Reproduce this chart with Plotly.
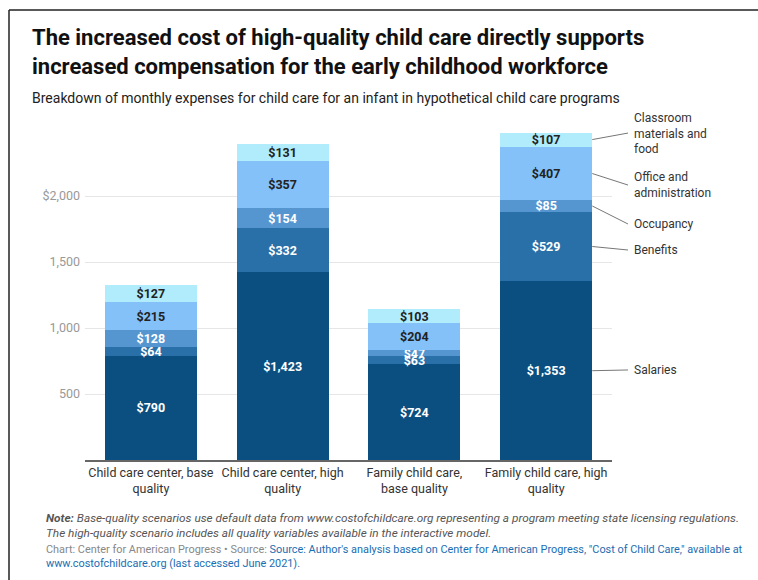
import plotly.graph_objects as go

categories = ["Child care center, base<br>quality", "Child care center, high<br>quality",
              "Family child care,<br>base quality", "Family child care, high<br>quality"]
salaries = [790, 1423, 724, 1353]
benefits = [64, 332, 63, 529]
occupancy = [128, 154, 47, 85]
office = [215, 357, 204, 407]
classroom = [127, 131, 103, 107]

series = [
    ("Salaries", salaries, "#0b4f80", "white"),
    ("Benefits", benefits, "#2a70a8", "white"),
    ("Occupancy", occupancy, "#5596d1", "white"),
    ("Office and<br>administration", office, "#84c1f8", "#222222"),
    ("Classroom<br>materials and<br>food", classroom, "#b0ecfb", "#222222"),
]
label_y = [682, 1591, 1788, 2083, 2477]

W, H = 758, 580
ML, MR, MT, MB = 85, 146, 125, 120
PW, PH = W - ML - MR, H - MT - MB
YMAX = 2538

def px(x):
    return (x - ML) / PW

def py(y):
    return (H - MB - y) / PH

FONT = "Roboto"
fig = go.Figure()
for name, vals, color, tcolor in series:
    fig.add_trace(go.Bar(
        x=categories, y=vals, name=name, marker=dict(color=color, line=dict(width=0)),
        text=[f"${v:,}" for v in vals], textposition="inside", insidetextanchor="middle",
        textangle=0, textfont=dict(family=FONT, size=12.5, color=tcolor, weight="bold"),
        hoverinfo="skip",
    ))

shapes = []
annotations = []
# leader lines + labels for last bar
last = len(categories) - 1
edge = (last + 0.35 + 0.5) / len(categories)
cum = 0
for (name, vals, color, tcolor), ly in zip(series, label_y):
    mid = cum + vals[last] / 2
    cum += vals[last]
    shapes.append(dict(type="line", xref="paper", yref="y", x0=edge, x1=px(628),
                       y0=mid, y1=ly, line=dict(color="#777777", width=1)))
    annotations.append(dict(xref="paper", yref="y", x=px(632), y=ly, text=name,
                            xanchor="left", yanchor="middle", align="left", showarrow=False,
                            font=dict(family=FONT, size=12, color="#333333")))

# border
shapes.append(dict(type="line", xref="paper", yref="paper", x0=px(9), x1=px(W + 5),
                   y0=py(10), y1=py(10), line=dict(color="#222222", width=1.5)))
shapes.append(dict(type="line", xref="paper", yref="paper", x0=px(9), x1=px(9),
                   y0=py(10), y1=py(H + 5), line=dict(color="#222222", width=1.5)))

annotations += [
    dict(xref="paper", yref="paper", x=px(30), y=py(52), xanchor="left", yanchor="middle",
         align="left", showarrow=False,
         text="The increased cost of high-quality child care directly supports<br>increased compensation for the early childhood workforce",
         font=dict(family=FONT, size=22, color="#111111", weight="bold")),
    dict(xref="paper", yref="paper", x=px(30), y=py(98), xanchor="left", yanchor="middle",
         align="left", showarrow=False,
         text="Breakdown of monthly expenses for child care for an infant in hypothetical child care programs",
         font=dict(family=FONT, size=14, color="#222222")),
    dict(xref="paper", yref="paper", x=px(44), y=py(525), xanchor="left", yanchor="middle",
         align="left", showarrow=False,
         text="<b><i>Note:</i></b><i> Base-quality scenarios use default data from www.costofchildcare.org representing a program meeting state licensing regulations.<br>The high-quality scenario includes all quality variables available in the interactive model.</i>",
         font=dict(family=FONT, size=11.8, color="#555555")),
    dict(xref="paper", yref="paper", x=px(44), y=py(556), xanchor="left", yanchor="middle",
         align="left", showarrow=False,
         text="Chart: Center for American Progress • Source: <span style='color:#1a6db3'>Source: Author's analysis based on Center for American Progress, \"Cost of Child Care,\" available at<br>www.costofchildcare.org (last accessed June 2021).</span>",
         font=dict(family=FONT, size=10.9, color="#888888")),
]

fig.update_layout(
    width=W, height=H, barmode="stack", bargap=0.3, showlegend=False,
    margin=dict(l=ML, r=MR, t=MT, b=MB, pad=0),
    paper_bgcolor="white", plot_bgcolor="white",
    font=dict(family=FONT),
    uniformtext=dict(minsize=12.5, mode="show"),
    shapes=shapes, annotations=annotations,
    xaxis=dict(showgrid=False, ticks="", showline=True, linecolor="#666666", linewidth=1.5,
               tickfont=dict(family=FONT, size=12.5, color="#333333"), fixedrange=True),
    yaxis=dict(range=[0, YMAX], tickvals=[500, 1000, 1500, 2000],
               ticktext=["500", "1,000", "1,500", "$2,000"], showgrid=True,
               gridcolor="#e6e6e6", gridwidth=1, zeroline=False, ticks="",
               tickfont=dict(family=FONT, size=12.5, color="#999999"), ticklabelstandoff=4),
)

fig.write_html("out.html")
